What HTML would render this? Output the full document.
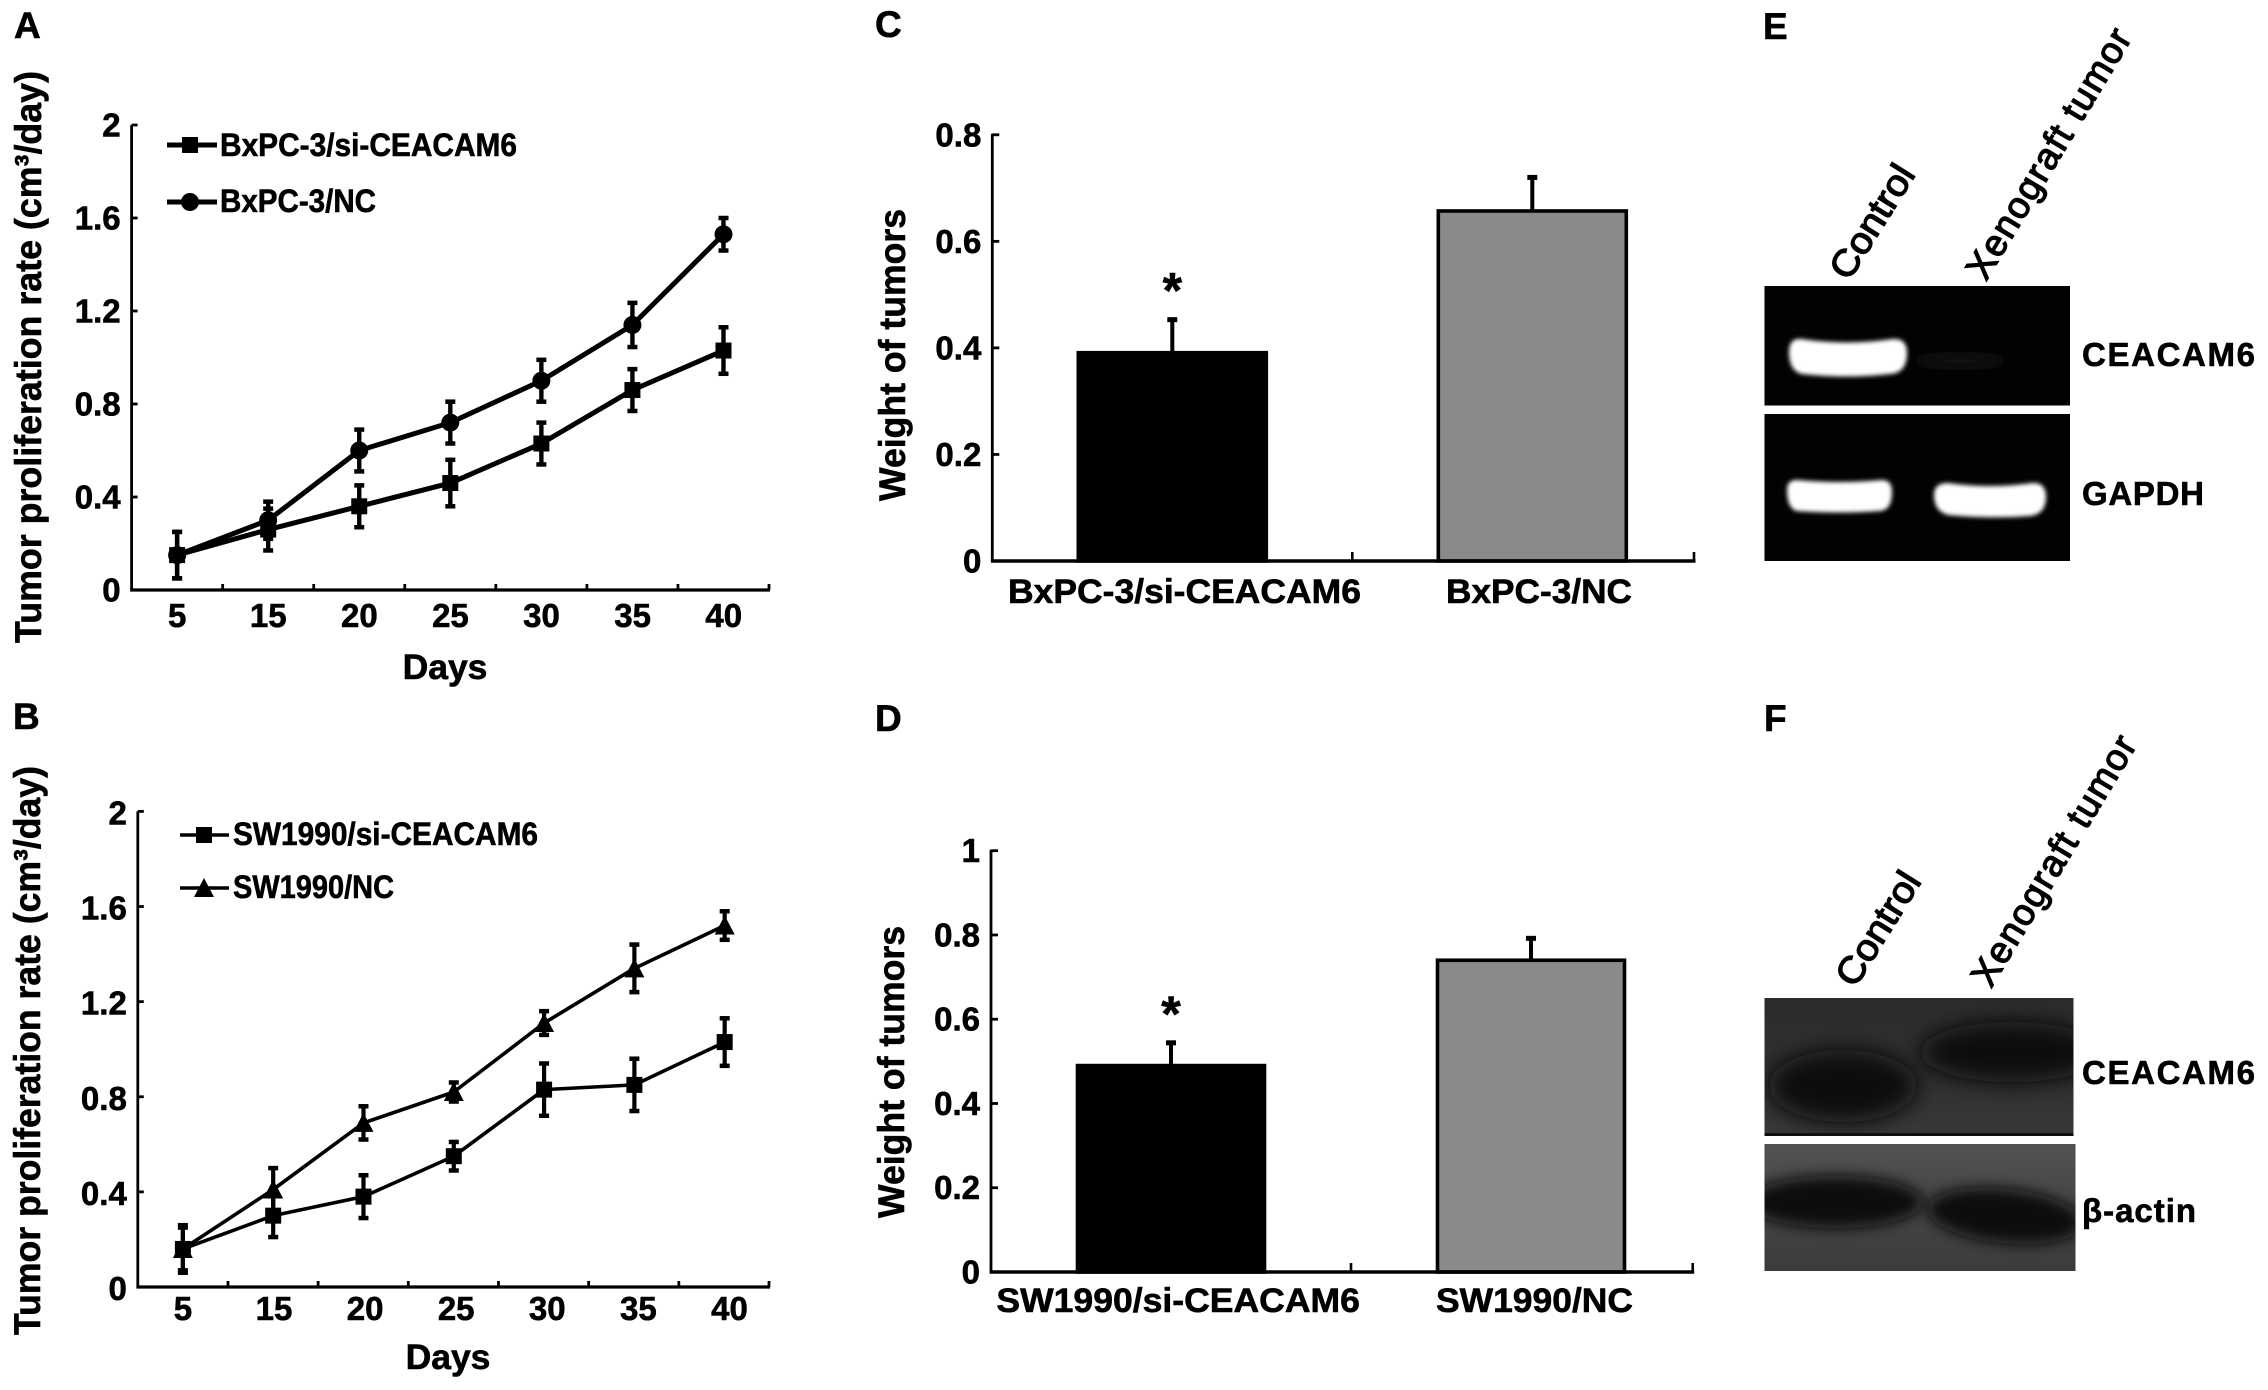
<!DOCTYPE html>
<html lang="en">
<head>
<meta charset="utf-8">
<title>CEACAM6 knockdown tumor figure</title>
<style>
html,body{margin:0;padding:0;background:#fff;width:2268px;height:1390px;overflow:hidden}
svg{display:block}
text{font-family:"Liberation Sans",sans-serif;font-weight:bold;fill:#000;stroke:#000;stroke-width:0.6px}
</style>
</head>
<body>
<svg id="fig" xmlns="http://www.w3.org/2000/svg" width="2268" height="1390" viewBox="0 0 2268 1390">
<defs>
<filter id="blur2" x="-20%" y="-40%" width="140%" height="180%"><feGaussianBlur stdDeviation="2.2"/></filter>
<filter id="blur4" x="-30%" y="-80%" width="160%" height="260%"><feGaussianBlur stdDeviation="5"/></filter>
<filter id="blur7" x="-30%" y="-80%" width="160%" height="260%"><feGaussianBlur stdDeviation="7"/></filter>
<filter id="blur9" x="-50%" y="-100%" width="200%" height="300%"><feGaussianBlur stdDeviation="11"/></filter>
<clipPath id="clipE1"><rect x="1764.5" y="286" width="305.5" height="119.5"/></clipPath>
<clipPath id="clipE2"><rect x="1764.5" y="414" width="305.5" height="147"/></clipPath>
<clipPath id="clipF1"><rect x="1764.5" y="998" width="309" height="138"/></clipPath>
<clipPath id="clipF2"><rect x="1764.5" y="1144" width="311" height="127"/></clipPath>
<linearGradient id="gradF1" x1="0" y1="0" x2="0" y2="1"><stop offset="0" stop-color="#2c2c2c"/><stop offset="0.6" stop-color="#303030"/><stop offset="1" stop-color="#383838"/></linearGradient>
<linearGradient id="gradF2" x1="0" y1="0" x2="0" y2="1"><stop offset="0" stop-color="#525252"/><stop offset="0.5" stop-color="#444"/><stop offset="1" stop-color="#3c3c3c"/></linearGradient>
</defs>

<!-- Panel letters -->
<text x="14" y="38" font-size="37">A</text>
<text x="13" y="729" font-size="37">B</text>
<text x="875" y="37" font-size="37">C</text>
<text x="875" y="731" font-size="37">D</text>
<text x="1763" y="39" font-size="37">E</text>
<text x="1764" y="731" font-size="37">F</text>

<!-- Axis titles -->
<text transform="translate(41,643) rotate(-90)" font-size="37" textLength="572" lengthAdjust="spacingAndGlyphs">Tumor proliferation rate (cm³/day)</text>
<text transform="translate(40,1335) rotate(-90)" font-size="37" textLength="569" lengthAdjust="spacingAndGlyphs">Tumor proliferation rate (cm³/day)</text>
<text x="445" y="679" font-size="35.5" text-anchor="middle">Days</text>
<text x="448" y="1369" font-size="35.5" text-anchor="middle">Days</text>
<text transform="translate(905,501) rotate(-90)" font-size="37" textLength="292" lengthAdjust="spacingAndGlyphs">Weight of tumors</text>
<text transform="translate(904,1218) rotate(-90)" font-size="37" textLength="292" lengthAdjust="spacingAndGlyphs">Weight of tumors</text>

<!-- Legends -->
<g>
  <line x1="167" y1="145" x2="217" y2="145" stroke="#000" stroke-width="5"/>
  <rect x="182" y="137" width="16" height="16" fill="#000"/>
  <text x="220" y="156" font-size="32" textLength="297" lengthAdjust="spacingAndGlyphs">BxPC-3/si-CEACAM6</text>
  <line x1="167" y1="202" x2="217" y2="202" stroke="#000" stroke-width="5"/>
  <circle cx="190" cy="202" r="9" fill="#000"/>
  <text x="220" y="212" font-size="32" textLength="156" lengthAdjust="spacingAndGlyphs">BxPC-3/NC</text>
</g>
<g>
  <line x1="180" y1="835" x2="229" y2="835" stroke="#000" stroke-width="3.6"/>
  <rect x="196" y="827" width="16" height="16" fill="#000"/>
  <text x="233" y="845" font-size="32" textLength="305" lengthAdjust="spacingAndGlyphs">SW1990/si-CEACAM6</text>
  <line x1="180" y1="888" x2="229" y2="888" stroke="#000" stroke-width="3.6"/>
  <polygon points="204,878 214,897 194,897" fill="#000"/>
  <text x="233" y="898" font-size="32" textLength="161" lengthAdjust="spacingAndGlyphs">SW1990/NC</text>
</g>

<!-- Panel E gel -->
<g>
  <text transform="translate(1849,282) rotate(-58)" font-size="37" textLength="127" lengthAdjust="spacingAndGlyphs" style="font-weight:normal;stroke-width:1.3px">Control</text>
  <text transform="translate(1986,282) rotate(-59)" font-size="37" textLength="285" lengthAdjust="spacing" style="font-weight:normal;stroke-width:1.3px">Xenograft tumor</text>
  <g clip-path="url(#clipE1)">
    <rect x="1764.5" y="286" width="305.5" height="119.5" fill="#020202"/>
    <path filter="url(#blur2)" fill="#fff" d="M1789,352 Q1789,338 1801,339 Q1847,346 1893,339 Q1907,338 1907,353 Q1907,373 1890,374 Q1847,379 1802,374 Q1789,371 1789,352 Z"/>
    <ellipse cx="1960" cy="361" rx="46" ry="6" fill="#131313" filter="url(#blur4)"/>
  </g>
  <g clip-path="url(#clipE2)">
    <rect x="1764.5" y="414" width="305.5" height="147" fill="#020202"/>
    <path filter="url(#blur2)" fill="#fff" d="M1787,490 Q1787,480 1797,480 Q1840,484 1882,480 Q1892,480 1892,492 Q1892,510 1880,511 Q1840,514 1796,511 Q1787,507 1787,490 Z"/>
    <path filter="url(#blur2)" fill="#fff" d="M1934,495 Q1934,483 1948,483 Q1990,489 2032,483 Q2046,482 2046,497 Q2046,514 2030,516 Q1990,519 1948,515 Q1934,511 1934,495 Z"/>
  </g>
  <text x="2082" y="366" font-size="33" textLength="173" lengthAdjust="spacing">CEACAM6</text>
  <text x="2082" y="505" font-size="33" textLength="122" lengthAdjust="spacing">GAPDH</text>
</g>

<!-- Panel F blot -->
<g>
  <text transform="translate(1855,989) rotate(-58)" font-size="37" textLength="127" lengthAdjust="spacingAndGlyphs" style="font-weight:normal;stroke-width:1.3px">Control</text>
  <text transform="translate(1991,989) rotate(-59)" font-size="37" textLength="285" lengthAdjust="spacing" style="font-weight:normal;stroke-width:1.3px">Xenograft tumor</text>
  <g clip-path="url(#clipF1)">
    <rect x="1764.5" y="998" width="309" height="138" fill="url(#gradF1)"/>
    <ellipse cx="1843" cy="1086" rx="74" ry="36" fill="#0a0a0a" filter="url(#blur9)"/>
    <ellipse cx="2012" cy="1052" rx="92" ry="30" fill="#0b0b0b" filter="url(#blur9)"/>
    <rect x="1764.5" y="1133" width="309" height="3" fill="#111"/>
  </g>
  <g clip-path="url(#clipF2)">
    <rect x="1764.5" y="1144" width="311" height="127" fill="url(#gradF2)"/>
    <ellipse cx="1835" cy="1202" rx="88" ry="26" fill="#0a0a0a" filter="url(#blur7)"/>
    <ellipse cx="2005" cy="1216" rx="78" ry="27" transform="rotate(6 2005 1216)" fill="#0a0a0a" filter="url(#blur7)"/>
  </g>
  <text x="2082" y="1084" font-size="33" textLength="173" lengthAdjust="spacing">CEACAM6</text>
  <text x="2082" y="1222" font-size="33" textLength="114" lengthAdjust="spacing">β-actin</text>
</g>

<g id="charts"></g>
</svg>

<script>
// Shared axis data
const dayLabels = ['5', '15', '20', '25', '30', '35', '40'];
const rateTicks = [0, 0.4, 0.8, 1.2, 1.6, 2];
const rateTickLabels = ['0', '0.4', '0.8', '1.2', '1.6', '2'];

// Panel A series
const bxSiValues = [0.15, 0.26, 0.36, 0.46, 0.63, 0.86, 1.03];
const bxSiErrors = [0.10, 0.09, 0.09, 0.10, 0.09, 0.09, 0.10];
const bxNcValues = [0.15, 0.30, 0.60, 0.72, 0.90, 1.14, 1.53];
const bxNcErrors = [0.10, 0.08, 0.09, 0.09, 0.09, 0.095, 0.07];

// Panel B series
const swSiValues = [0.16, 0.30, 0.38, 0.55, 0.83, 0.85, 1.03];
const swSiErrors = [0.09, 0.09, 0.09, 0.06, 0.11, 0.11, 0.10];
const swNcValues = [0.16, 0.41, 0.69, 0.82, 1.11, 1.34, 1.52];
const swNcErrors = [0.10, 0.09, 0.07, 0.04, 0.05, 0.10, 0.06];

// Panel C data
const bxWeightCategories = ['BxPC-3/si-CEACAM6', 'BxPC-3/NC'];
const bxWeights = [0.391, 0.657];
const bxWeightErrors = [0.062, 0.063];
const bxWeightTicks = [0, 0.2, 0.4, 0.6, 0.8];
const bxWeightTickLabels = ['0', '0.2', '0.4', '0.6', '0.8'];

// Panel D data
const swWeightCategories = ['SW1990/si-CEACAM6', 'SW1990/NC'];
const swWeights = [0.49, 0.74];
const swWeightErrors = [0.054, 0.052];
const swWeightTicks = [0, 0.2, 0.4, 0.6, 0.8, 1];
const swWeightTickLabels = ['0', '0.2', '0.4', '0.6', '0.8', '1'];

const barFills = ['#000000', '#8a8a8a'];
const NS = 'http://www.w3.org/2000/svg';
const root = document.getElementById('charts');

function node(tag, parent, attrs, content) {
  const el = document.createElementNS(NS, tag);
  for (const k in attrs) el.setAttribute(k, attrs[k]);
  if (content !== undefined) el.textContent = content;
  parent.appendChild(el);
  return el;
}

function drawLinePanel(p) {
  const g = node('g', root, {});
  
  
  const step = (p.xEnd - p.x0) / dayLabels.length;
  const xScale = i => p.x0 + step / 2 + i * p.markStep;
  const yScale = v => p.y0 - (v / 2) * (p.y0 - p.yTop);

  const yAxis = node('line', g, {x1: p.x0, y1: p.yTop, x2: p.x0, y2: p.y0, stroke: '#000', 'stroke-width': 2.8});
  
  
  const xAxis = node('line', g, {x1: p.x0 - 1.4, y1: p.y0, x2: p.xEnd + 1, y2: p.y0, stroke: '#000', 'stroke-width': 3.2});
  
  

  rateTicks.forEach((t, i) => {
    const y = yScale(t);
    const tick = node('line', g, {x1: p.x0, y1: y, x2: p.x0 + 6, y2: y, stroke: '#000', 'stroke-width': 2.8});
    
    
    const lab = node('text', g, {x: p.x0 - 11, y: y + p.tickLabelDy, 'font-size': 33, 'text-anchor': 'end'}, rateTickLabels[i]);
    
    
  });
  dayLabels.forEach((d, i) => {
    const tx = p.x0 + (i + 1) * step;
    const tick = node('line', g, {x1: tx, y1: p.y0, x2: tx, y2: p.y0 - 6, stroke: '#000', 'stroke-width': 2.8});
    
    
    const lab = node('text', g, {x: p.x0 + step / 2 + i * p.labelStep, y: p.labelY, 'font-size': 33, 'text-anchor': 'middle'}, d);
    
    
  });

  p.series.forEach(s => {
    s.values.forEach((v, i) => {
      const x = xScale(i);
      const top = yScale(v + s.errors[i]);
      const bot = yScale(v - s.errors[i]);
      const bar = node('line', g, {x1: x, y1: top, x2: x, y2: bot, stroke: '#000', 'stroke-width': p.errWidth});
      
      
      const capT = node('line', g, {x1: x - 5, y1: top, x2: x + 5, y2: top, stroke: '#000', 'stroke-width': 4.5});
      
      
      const capB = node('line', g, {x1: x - 5, y1: bot, x2: x + 5, y2: bot, stroke: '#000', 'stroke-width': 4.5});
      
      
    });
    const pts = s.values.map((v, i) => xScale(i) + ',' + yScale(v)).join(' ');
    const line = node('polyline', g, {points: pts, fill: 'none', stroke: '#000', 'stroke-width': p.lineWidth, 'stroke-linejoin': 'round'});
    
    
    s.values.forEach((v, i) => {
      const x = xScale(i), y = yScale(v);
      let m;
      if (s.marker === 'square') {
        m = node('rect', g, {x: x - 8, y: y - 8, width: 16, height: 16, fill: '#000'});
      } else if (s.marker === 'circle') {
        m = node('circle', g, {cx: x, cy: y, r: 9, fill: '#000'});
      } else {
        m = node('polygon', g, {points: x + ',' + (y - 10) + ' ' + (x + 10) + ',' + (y + 9) + ' ' + (x - 10) + ',' + (y + 9), fill: '#000'});
      }
      
      
    });
  });
}

function drawBarPanel(p) {
  const g = node('g', root, {});
  
  
  const yScale = v => p.y0 - (v / p.yMax) * (p.y0 - p.yTop);

  p.values.forEach((v, i) => {
    const cx = p.x0 + (i + 0.5) * p.catStep;
    const top = yScale(v);
    const errTop = yScale(v + p.errors[i]);
    const stem = node('line', g, {x1: cx, y1: top, x2: cx, y2: errTop, stroke: '#000', 'stroke-width': 4});
    
    
    const cap = node('line', g, {x1: cx - 5, y1: errTop, x2: cx + 5, y2: errTop, stroke: '#000', 'stroke-width': 5});
    
    
    const bar = node('rect', g, {x: cx - p.barWidth / 2, y: top, width: p.barWidth, height: p.y0 - top, fill: barFills[i], stroke: '#000', 'stroke-width': 3.6});
    
    
    const lab = node('text', g, {x: p.labelX[i], y: p.labelY, 'font-size': 34, textLength: p.labelW[i], lengthAdjust: 'spacingAndGlyphs'}, p.categories[i]);
    
    
  });

  const star = node('text', g, {x: p.x0 + 0.5 * p.catStep, y: yScale(p.values[0] + p.errors[0]) + p.starDy, 'font-size': 50, 'text-anchor': 'middle'}, '*');
  
  

  const yAxis = node('line', g, {x1: p.x0, y1: p.yTop - 1, x2: p.x0, y2: p.y0, stroke: '#000', 'stroke-width': 2.8});
  
  
  const xAxis = node('line', g, {x1: p.x0 - 1.4, y1: p.y0, x2: p.xEnd + 1.5, y2: p.y0, stroke: '#000', 'stroke-width': 3.6});
  
  
  const mid = node('line', g, {x1: p.x0 + p.catStep, y1: p.y0, x2: p.x0 + p.catStep, y2: p.y0 - 9, stroke: '#000', 'stroke-width': 2.6});
  
  
  const end = node('line', g, {x1: p.xEnd, y1: p.y0, x2: p.xEnd, y2: p.y0 - 9, stroke: '#000', 'stroke-width': 2.6});
  
  

  p.ticks.forEach((t, i) => {
    const y = yScale(t);
    const tick = node('line', g, {x1: p.x0, y1: y, x2: p.x0 + 7, y2: y, stroke: '#000', 'stroke-width': 2.8});
    
    
    const lab = node('text', g, {x: p.x0 - 11, y: y + 11.5, 'font-size': 33, 'text-anchor': 'end'}, p.tickLabels[i]);
    
    
  });
}

drawLinePanel({
  id: 'panel-a', x0: 131.6, xEnd: 769, y0: 590, yTop: 125, labelY: 627, lineWidth: 5, errWidth: 4.4,
  markStep: 91.06, labelStep: 91.1, tickLabelDy: 11.5,
  series: [
    {id: 'bxpc3-si', marker: 'square', values: bxSiValues, errors: bxSiErrors},
    {id: 'bxpc3-nc', marker: 'circle', values: bxNcValues, errors: bxNcErrors}
  ]
});
drawLinePanel({
  id: 'panel-b', x0: 137.8, xEnd: 769, y0: 1287, yTop: 811.4, labelY: 1320, lineWidth: 3.6, errWidth: 4.2,
  markStep: 90.3, labelStep: 91.1, tickLabelDy: 13,
  series: [
    {id: 'sw1990-si', marker: 'square', values: swSiValues, errors: swSiErrors},
    {id: 'sw1990-nc', marker: 'triangle', values: swNcValues, errors: swNcErrors}
  ]
});
drawBarPanel({
  id: 'panel-c', x0: 992.3, xEnd: 1694, y0: 561, yTop: 134.8, yMax: 0.8, catStep: 360, barWidth: 188,
  values: bxWeights, errors: bxWeightErrors, categories: bxWeightCategories,
  ticks: bxWeightTicks, tickLabels: bxWeightTickLabels,
  labelX: [1008, 1446], labelW: [353, 186], labelY: 603, starDy: -12
});
drawBarPanel({
  id: 'panel-d', x0: 991, xEnd: 1692.7, y0: 1272, yTop: 850.7, yMax: 1, catStep: 360, barWidth: 187,
  values: swWeights, errors: swWeightErrors, categories: swWeightCategories,
  ticks: swWeightTicks, tickLabels: swWeightTickLabels,
  labelX: [996.4, 1436], labelW: [363.5, 197], labelY: 1312, starDy: -12
});
</script>
</body>
</html>
